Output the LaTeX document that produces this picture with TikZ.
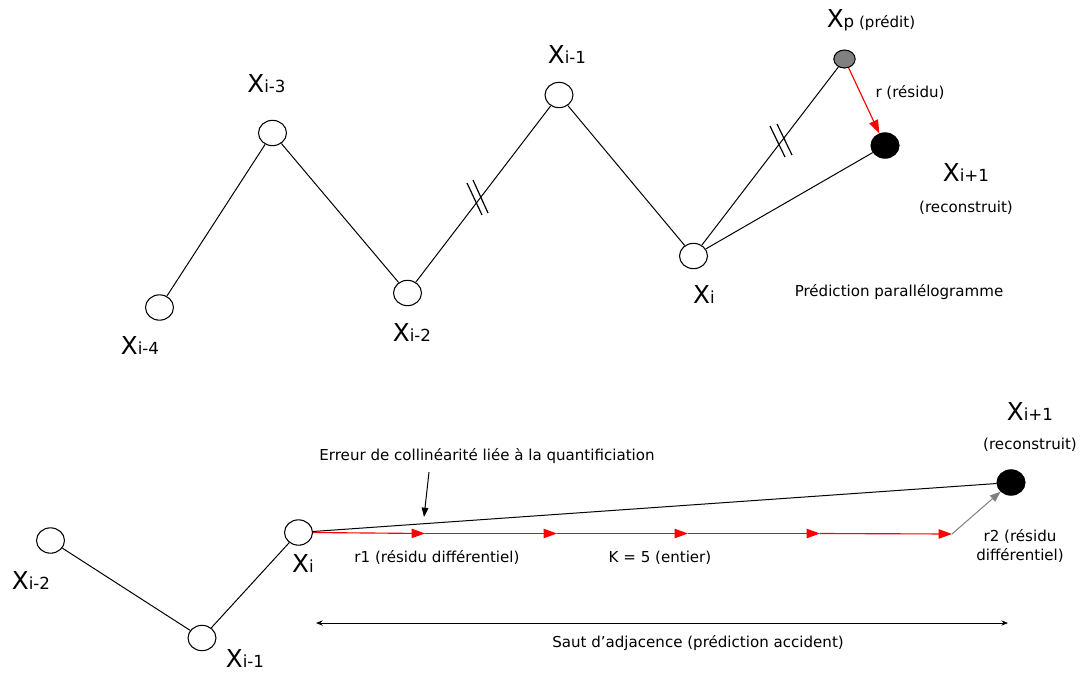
\documentclass[tikz,border=0pt]{standalone}
\usepackage{fontspec}
\setmainfont{DejaVu Sans}
\usetikzlibrary{shapes.geometric,arrows.meta}
\newcommand{\Xlab}[1]{{\fontsize{18.5}{20}\selectfont X}{\fontsize{12.5}{14}\selectfont #1}}
\tikzset{
  pt/.style={ellipse, draw, line width=0.8pt, minimum width=21pt, minimum height=19pt, inner sep=0pt, fill=white},
  ptblack/.style={pt, fill=black},
  ptgray/.style={ellipse, draw, line width=0.8pt, fill=gray, minimum width=16pt, minimum height=13.5pt, inner sep=0pt},
  edge/.style={line width=0.75pt},
  lbl/.style={font=\fontsize{11.3}{14}\selectfont, inner sep=0pt},
  big/.style={inner sep=0pt},
  tickmark/.style={line width=0.9pt},
  redarr/.style={red, line width=0.85pt, -{Triangle[length=10pt,width=7pt]}},
  grayarr/.style={gray, line width=0.75pt, -{Triangle[length=8pt,width=6pt]}},
  blkarr/.style={line width=0.75pt, -{Triangle[length=7pt,width=5pt]}},
  dblarr/.style={line width=0.75pt, {Stealth[length=5pt,width=4pt]}-{Stealth[length=5pt,width=4pt]}},
}
\begin{document}
\begin{tikzpicture}[x=0.75pt,y=-0.75pt]
\path[use as bounding box] (0,0) rectangle (1081,672);

% ---------- top: parallelogram prediction ----------
\node[pt] (a4) at (159.5,307.5) {};
\node[pt] (a3) at (272.5,133) {};
\node[pt] (a2) at (407.5,293) {};
\node[pt] (a1) at (559,95) {};
\node[pt] (a0) at (693.5,256) {};
\node[ptgray] (xp) at (844.5,59) {};
\node[ptblack] (ap) at (885,145.5) {};

\draw[edge] (a4) -- (a3);
\draw[edge] (a3) -- (a2);
\draw[edge] (a2) -- (a1);
\draw[edge] (a1) -- (a0);
\draw[edge] (a0) -- (xp);
\draw[edge] (a0) -- (ap);
\draw[redarr] (xp) -- (ap);

% equal-length tick marks
\draw[tickmark] (467,183) -- (482,215);
\draw[tickmark] (473,180) -- (488,213);
\draw[tickmark] (770,126) -- (785,157);
\draw[tickmark] (777,124) -- (792,155);

\node[big] (la4) at (140,345) {\Xlab{i-4}};
\node[big] (la3) at (266.5,84) {\Xlab{i-3}};
\node[big] (la2) at (412,333) {\Xlab{i-2}};
\node[big] (la1) at (567,55) {\Xlab{i-1}};
\node[big] (la0) at (704,295) {\Xlab{i}};
\node[big] (lxp) at (871,20) {\Xlab{p}{\fontsize{11.3}{14}\selectfont\ (prédit)}};
\node[lbl] (lr) at (910,92) {r (résidu)};
\node[big] (lap) at (966,173) {\Xlab{i+1}};
\node[lbl] (lrec) at (966,208) {(reconstruit)};
\node[lbl] (lpp) at (899,292) {Prédiction parallélogramme};

% ---------- bottom: adjacency jump ----------
\node[pt] (b2) at (50.5,540.5) {};
\node[pt] (b1) at (202,638) {};
\node[pt] (b0) at (298.5,532.5) {};
\node[ptblack] (bp) at (1011,482.5) {};

\draw[edge] (b2) -- (b1);
\draw[edge] (b1) -- (b0);
\draw[edge] (b0) -- (bp);

\coordinate (r1) at (425,533.5);
\coordinate (r2) at (557,533.5);
\coordinate (r3) at (688,533.5);
\coordinate (r4) at (820,533.5);
\coordinate (r5) at (952,534);
\draw[redarr] (b0.east) -- (r1);
\draw[redarr] (r1) -- (r2);
\draw[redarr] (r2) -- (r3);
\draw[redarr] (r3) -- (r4);
\draw[redarr] (r4) -- (r5);
\draw[grayarr] (r5) -- (bp);

\node[big] (lb2) at (31,580) {\Xlab{i-2}};
\node[big] (lb1) at (245,658.5) {\Xlab{i-1}};
\node[big] (lb0) at (303,563) {\Xlab{i}};
\node[big] (lbp) at (1030,411) {\Xlab{i+1}};
\node[lbl] (lbrec) at (1030,445) {(reconstruit)};

\node[lbl] (lerr) at (487,456) {Erreur de collinéarité liée à la quantificiation};
\coordinate (e1) at (429,472);
\coordinate (e2) at (424,517);
\draw[blkarr] (e1) -- (e2);

\node[lbl] (lr1) at (437,557) {r1 (résidu différentiel)};
\node[lbl] (lk) at (660,558) {K = 5 (entier)};
\node[lbl, align=center] (lr2) at (1020,546) {r2 (résidu\\différentiel)};

\coordinate (s1) at (316,623);
\coordinate (s2) at (1008,623);
\draw[dblarr] (s1) -- (s2);
\node[lbl] (lsaut) at (698,643) {Saut d'adjacence (prédiction accident)};
\end{tikzpicture}
\end{document}
